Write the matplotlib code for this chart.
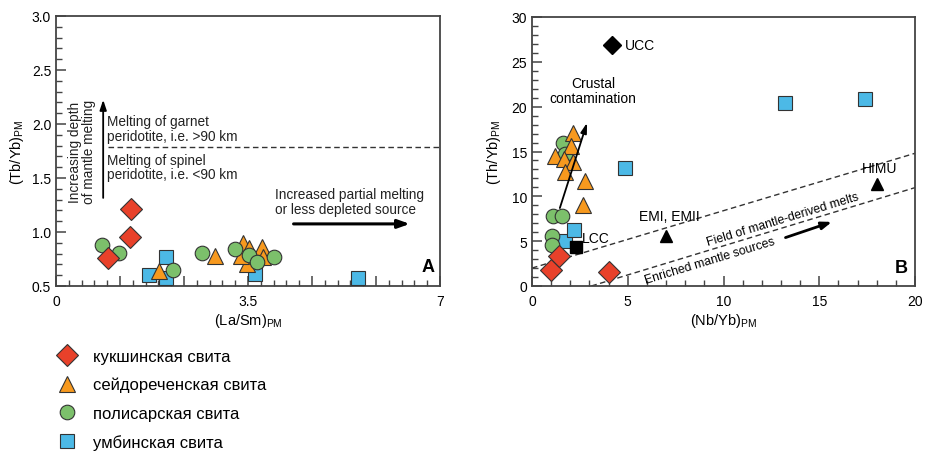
import numpy as np
import matplotlib.pyplot as plt
from matplotlib.ticker import MultipleLocator, FixedLocator

plt.rcParams['font.family'] = ['Liberation Sans', 'DejaVu Sans']
plt.rcParams['mathtext.fontset'] = 'custom'
plt.rcParams['mathtext.rm'] = 'Liberation Sans'

# series names (legend)
names = ["кукшинская свита", "сейдореченская свита", "полисарская свита", "умбинская свита"]

# panel A: (La/Sm)PM vs (Tb/Yb)PM
a_kuk_x = [0.94, 1.35, 1.36]
a_kuk_y = [0.76, 0.95, 1.21]
a_sei_x = [2.90, 1.87, 3.40, 3.52, 3.76, 3.48, 3.78, 3.37]
a_sei_y = [0.78, 0.64, 0.90, 0.85, 0.86, 0.70, 0.77, 0.78]
a_pol_x = [0.84, 1.15, 2.13, 2.67, 3.27, 3.52, 3.66, 3.98]
a_pol_y = [0.88, 0.81, 0.65, 0.81, 0.84, 0.79, 0.72, 0.77]
a_umb_x = [1.69, 2.00, 2.00, 3.63, 5.50]
a_umb_y = [0.605, 0.765, 0.57, 0.61, 0.57]

# panel B: (Nb/Yb)PM vs (Th/Yb)PM
b_kuk_x = [1.01, 1.41, 4.02]
b_kuk_y = [1.82, 3.38, 1.52]
b_sei_x = [2.16, 2.02, 1.20, 1.69, 2.16, 1.71, 2.78, 2.68]
b_sei_y = [17.1, 15.6, 14.5, 14.2, 13.8, 12.7, 11.75, 9.0]
b_pol_x = [1.03, 1.03, 1.08, 1.55, 1.60, 1.72]
b_pol_y = [5.54, 4.60, 7.84, 7.84, 15.95, 14.7]
b_umb_x = [1.72, 2.21, 4.87, 13.2, 17.4]
b_umb_y = [4.99, 6.28, 13.2, 20.4, 20.9]

# reference reservoirs
ref_names = ["UCC", "LCC", "EMI, EMII", "HIMU"]
ref_x = [4.2, 2.28, 7.0, 18.0]
ref_y = [26.9, 4.3, 5.6, 11.4]
ref_marker = ["D", "s", "^", "^"]

# dashed field boundaries (x, y pairs)
upper_x, upper_y = [0, 20], [2.0, 14.8]
lower_x, lower_y = [3.1, 20], [0.0, 10.97]

colors = ["#e8412a", "#f7991e", "#7cc06b", "#4cb9e6"]
markers = ["D", "^", "o", "s"]
sizes = [11.5, 12, 10.5, 10.5]
edge = "#333333"

fig = plt.figure(figsize=(9.25, 4.52), dpi=100)
axA = fig.add_axes([56 / 925, 165 / 452, 384 / 925, 270 / 452])
axB = fig.add_axes([532 / 925, 165 / 452, 383 / 925, 269 / 452])

spine_c = "#444444"
for ax in (axA, axB):
    for s in ax.spines.values():
        s.set_linewidth(1.3)
        s.set_color(spine_c)
    ax.tick_params(which="both", direction="in", color=spine_c, labelsize=10,
                   top=False, right=False)
    ax.tick_params(which="major", length=7, width=1.1)
    ax.tick_params(which="minor", length=4, width=1.0)

# ---- panel A
A_x = [a_kuk_x, a_sei_x, a_pol_x, a_umb_x]
A_y = [a_kuk_y, a_sei_y, a_pol_y, a_umb_y]
for i in [3, 1, 2, 0]:
    axA.plot(A_x[i], A_y[i], ls="none", marker=markers[i], ms=sizes[i],
             mfc=colors[i], mec=edge, mew=0.8, zorder=3)
handles = []
for i in range(4):
    h, = axA.plot([], [], ls="none", marker=markers[i], ms=sizes[i],
                  mfc=colors[i], mec=edge, mew=0.8)
    handles.append(h)

axA.set_xlim(0, 7)
axA.set_ylim(0.5, 3.0)
axA.xaxis.set_major_locator(FixedLocator([0, 7 / 6, 7 / 3, 3.5, 14 / 3, 35 / 6, 7]))
axA.xaxis.set_minor_locator(MultipleLocator(7 / 30))
axA.yaxis.set_major_locator(MultipleLocator(0.5))
axA.yaxis.set_minor_locator(MultipleLocator(0.1))
axA.set_xticklabels(["0", "", "", "3.5", "", "", "7"])
axA.yaxis.set_major_formatter(plt.FormatStrFormatter("%.1f"))
axA.tick_params(axis="x", pad=6)
axA.set_xlabel(r"(La/Sm)$_\mathregular{PM}$", fontsize=10.5, labelpad=2)
axA.set_ylabel(r"(Tb/Yb)$_\mathregular{PM}$", fontsize=10.5, labelpad=4)

axA.plot([0.94, 7], [1.785, 1.785], ls=(0, (4, 2.5)), color="#333333", lw=1.0)
axA.annotate("", xy=(0.86, 2.25), xytext=(0.86, 1.29),
             arrowprops=dict(arrowstyle="-|>,head_length=0.6,head_width=0.2",
                             color="black", lw=1.3))
axA.text(0.47, 1.75, "Increasing depth\nof mantle melting", rotation=90,
         ha="center", va="center", fontsize=9.8, linespacing=1.0, color="#222222")
axA.text(0.93, 1.96, "Melting of garnet\nperidotite, i.e. >90 km", ha="left",
         va="center", fontsize=9.8, linespacing=1.05, color="#222222")
axA.text(0.93, 1.60, "Melting of spinel\nperidotite, i.e. <90 km", ha="left",
         va="center", fontsize=9.8, linespacing=1.05, color="#222222")
axA.text(3.99, 1.28, "Increased partial melting\nor less depleted source", ha="left",
         va="center", fontsize=9.8, linespacing=1.05, color="#222222")
axA.annotate("", xy=(6.5, 1.075), xytext=(4.28, 1.075),
             arrowprops=dict(arrowstyle="-|>,head_length=0.7,head_width=0.25",
                             color="black", lw=2.2))
axA.text(6.9, 0.68, "A", ha="right", va="center", fontsize=13, fontweight="bold")

# ---- panel B
axB.plot(upper_x, upper_y, ls=(0, (4, 2.5)), color="#333333", lw=1.0)
axB.plot(lower_x, lower_y, ls=(0, (4, 2.5)), color="#333333", lw=1.0)
axB.annotate("", xy=(2.92, 18.5), xytext=(1.41, 8.4),
             arrowprops=dict(arrowstyle="-|>,head_length=0.6,head_width=0.18",
                             color="black", lw=1.3), zorder=4)
B_x = [b_kuk_x, b_sei_x, b_pol_x, b_umb_x]
B_y = [b_kuk_y, b_sei_y, b_pol_y, b_umb_y]
for i in [3, 2, 1, 0]:
    axB.plot(B_x[i], B_y[i], ls="none", marker=markers[i], ms=sizes[i],
             mfc=colors[i], mec=edge, mew=0.8, zorder=3)
for i in range(4):
    axB.plot(ref_x[i], ref_y[i], ls="none", marker=ref_marker[i],
             ms=8 if i else 9, color="black", zorder=3)

axB.set_xlim(0, 20)
axB.set_ylim(0, 30)
axB.xaxis.set_major_locator(MultipleLocator(5))
axB.xaxis.set_minor_locator(MultipleLocator(1))
axB.yaxis.set_major_locator(MultipleLocator(5))
axB.yaxis.set_minor_locator(MultipleLocator(1))
axB.tick_params(axis="x", pad=6)
axB.set_xlabel(r"(Nb/Yb)$_\mathregular{PM}$", fontsize=10.5, labelpad=2)
axB.set_ylabel(r"(Th/Yb)$_\mathregular{PM}$", fontsize=10.5, labelpad=6)

axB.text(4.85, 26.9, "UCC", ha="left", va="center", fontsize=10)
axB.text(2.6, 5.3, "LCC", ha="left", va="center", fontsize=10)
axB.text(5.6, 7.8, "EMI, EMII", ha="left", va="center", fontsize=10)
axB.text(17.2, 13.2, "HIMU", ha="left", va="center", fontsize=10)
axB.text(3.2, 21.8, "Crustal\ncontamination", ha="center", va="center",
         fontsize=10, linespacing=1.15)
axB.text(19.6, 2.1, "B", ha="right", va="center", fontsize=13, fontweight="bold")

p0 = axB.transData.transform((lower_x[0], lower_y[0]))
p1 = axB.transData.transform((lower_x[1], lower_y[1]))
ang = np.degrees(np.arctan2(p1[1] - p0[1], p1[0] - p0[0]))
axB.text(13.1, 7.5, "Field of mantle-derived melts", rotation=ang, ha="center",
         va="center", fontsize=8.8, rotation_mode="anchor")
axB.text(9.3, 2.9, "Enriched mantle sources", rotation=ang, ha="center",
         va="center", fontsize=8.8, rotation_mode="anchor")
axB.annotate("", xy=(15.8, 7.25), xytext=(13.1, 5.3),
             arrowprops=dict(arrowstyle="-|>,head_length=0.6,head_width=0.22",
                             color="black", lw=2.0))

fig.legend(handles, names, loc="upper left", bbox_to_anchor=(0.052, 1 - 343 / 452),
           frameon=False, fontsize=12, handletextpad=0.8, labelspacing=0.8,
           borderaxespad=0, handlelength=1.5)

fig.savefig("out.png", dpi=100)
